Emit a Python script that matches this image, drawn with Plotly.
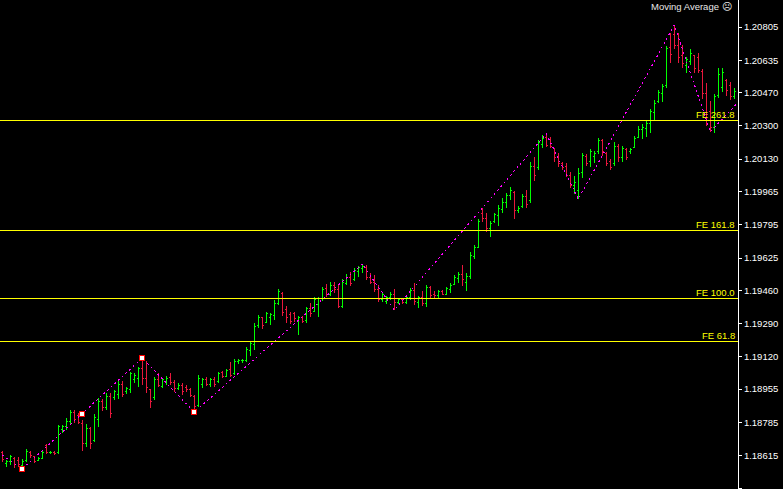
import plotly.graph_objects as go

# ---------------- data (EURUSD-like OHLC) ----------------
bars = list(range(184))

open_ = [1.18634,1.18573,1.18583,1.18603,1.18593,1.18563,1.18593,1.18634,1.18609,1.18593,
         1.18603,1.18665,1.18629,1.18634,1.18629,1.18747,1.18762,1.18792,1.18838,1.18818,
         1.18782,1.18680,1.18752,1.18695,1.18798,1.18890,1.18859,1.18920,1.18910,1.18930,
         1.18981,1.18941,1.18951,1.19002,1.19012,1.19063,1.19012,1.18951,1.18910,1.19002,
         1.18971,1.18992,1.19017,1.18987,1.18956,1.18976,1.18966,1.18951,1.18920,1.18874,
         1.18981,1.19002,1.18981,1.19002,1.18992,1.19038,1.19022,1.19053,1.19033,1.19094,
         1.19099,1.19104,1.19155,1.19181,1.19278,1.19319,1.19298,1.19319,1.19329,1.19395,
         1.19446,1.19360,1.19334,1.19339,1.19308,1.19319,1.19308,1.19365,1.19354,1.19385,
         1.19416,1.19467,1.19441,1.19487,1.19462,1.19375,1.19497,1.19528,1.19513,1.19554,
         1.19569,1.19579,1.19528,1.19502,1.19462,1.19411,1.19405,1.19421,1.19441,1.19400,
         1.19411,1.19400,1.19421,1.19457,1.19400,1.19421,1.19395,1.19472,1.19441,1.19431,
         1.19452,1.19441,1.19462,1.19492,1.19518,1.19543,1.19502,1.19533,1.19635,1.19681,
         1.19850,1.19829,1.19778,1.19809,1.19840,1.19875,1.19911,1.19942,1.19962,1.19870,
         1.19886,1.19937,1.19921,1.20090,1.20085,1.20207,1.20243,1.20228,1.20182,1.20141,
         1.20110,1.20095,1.20049,1.19993,1.19972,1.20064,1.20146,1.20116,1.20146,1.20167,
         1.20223,1.20161,1.20116,1.20110,1.20197,1.20141,1.20177,1.20167,1.20192,1.20243,
         1.20279,1.20289,1.20310,1.20366,1.20427,1.20463,1.20504,1.20698,1.20769,1.20713,
         1.20662,1.20606,1.20631,1.20657,1.20647,1.20580,1.20463,1.20371,1.20294,1.20453,
         1.20494,1.20534,1.20504,1.20448]

high = [1.18639,1.18593,1.18619,1.18609,1.18609,1.18598,1.18649,1.18639,1.18614,1.18609,
        1.18639,1.18675,1.18639,1.18639,1.18772,1.18772,1.18808,1.18849,1.18849,1.18833,
        1.18798,1.18777,1.18762,1.18828,1.18910,1.18905,1.18936,1.18936,1.18951,1.19002,
        1.18997,1.18966,1.19043,1.19038,1.19068,1.19114,1.19099,1.18956,1.19017,1.19038,
        1.19012,1.19022,1.19038,1.19002,1.18987,1.18987,1.18976,1.18961,1.18925,1.19027,
        1.19012,1.19017,1.19012,1.19017,1.19043,1.19048,1.19058,1.19094,1.19109,1.19109,
        1.19109,1.19170,1.19196,1.19293,1.19334,1.19324,1.19349,1.19344,1.19411,1.19467,
        1.19452,1.19380,1.19349,1.19349,1.19329,1.19329,1.19375,1.19395,1.19426,1.19426,
        1.19477,1.19492,1.19502,1.19502,1.19487,1.19518,1.19543,1.19554,1.19574,1.19584,
        1.19594,1.19589,1.19548,1.19538,1.19487,1.19452,1.19431,1.19452,1.19467,1.19416,
        1.19416,1.19431,1.19472,1.19497,1.19431,1.19457,1.19487,1.19482,1.19457,1.19462,
        1.19462,1.19477,1.19497,1.19538,1.19554,1.19589,1.19548,1.19656,1.19691,1.19824,
        1.19880,1.19855,1.19814,1.19855,1.19896,1.19932,1.19957,1.19988,1.19967,1.19891,
        1.19952,1.19972,1.20116,1.20141,1.20228,1.20253,1.20259,1.20243,1.20187,1.20161,
        1.20116,1.20110,1.20064,1.20044,1.20085,1.20161,1.20156,1.20182,1.20172,1.20238,
        1.20233,1.20167,1.20131,1.20218,1.20207,1.20197,1.20187,1.20187,1.20248,1.20299,
        1.20310,1.20325,1.20386,1.20432,1.20483,1.20514,1.20708,1.20774,1.20815,1.20774,
        1.20713,1.20652,1.20693,1.20662,1.20672,1.20591,1.20519,1.20427,1.20463,1.20596,
        1.20596,1.20540,1.20524,1.20494]

low = [1.18583,1.18558,1.18568,1.18552,1.18558,1.18547,1.18583,1.18603,1.18578,1.18588,
       1.18598,1.18624,1.18624,1.18619,1.18624,1.18731,1.18747,1.18772,1.18782,1.18777,
       1.18639,1.18660,1.18649,1.18685,1.18762,1.18844,1.18849,1.18808,1.18900,1.18905,
       1.18915,1.18930,1.18936,1.18987,1.18966,1.18976,1.18936,1.18859,1.18900,1.18966,
       1.18961,1.18976,1.18976,1.18941,1.18951,1.18925,1.18941,1.18915,1.18838,1.18864,
       1.18961,1.18971,1.18966,1.18966,1.18987,1.19012,1.19017,1.19017,1.19027,1.19084,
       1.19089,1.19094,1.19125,1.19155,1.19268,1.19262,1.19293,1.19283,1.19308,1.19385,
       1.19329,1.19293,1.19288,1.19298,1.19232,1.19293,1.19293,1.19324,1.19349,1.19324,
       1.19405,1.19426,1.19431,1.19446,1.19370,1.19370,1.19487,1.19482,1.19508,1.19528,
       1.19548,1.19513,1.19492,1.19452,1.19400,1.19400,1.19390,1.19411,1.19360,1.19390,
       1.19390,1.19390,1.19411,1.19385,1.19370,1.19380,1.19375,1.19416,1.19421,1.19416,
       1.19436,1.19436,1.19446,1.19487,1.19497,1.19482,1.19457,1.19518,1.19620,1.19676,
       1.19809,1.19758,1.19732,1.19804,1.19789,1.19855,1.19880,1.19921,1.19824,1.19855,
       1.19880,1.19880,1.19906,1.20019,1.20075,1.20187,1.20192,1.20187,1.20116,1.20090,
       1.20075,1.20039,1.19983,1.19952,1.19926,1.20034,1.20095,1.20090,1.20110,1.20156,
       1.20146,1.20095,1.20075,1.20095,1.20116,1.20116,1.20126,1.20156,1.20187,1.20238,
       1.20233,1.20243,1.20264,1.20325,1.20417,1.20422,1.20494,1.20621,1.20693,1.20621,
       1.20596,1.20570,1.20611,1.20570,1.20570,1.20437,1.20299,1.20269,1.20264,1.20442,
       1.20473,1.20453,1.20432,1.20437]

close = [1.18598,1.18588,1.18609,1.18568,1.18568,1.18588,1.18639,1.18614,1.18588,1.18603,
         1.18634,1.18634,1.18634,1.18624,1.18762,1.18762,1.18792,1.18838,1.18798,1.18787,
         1.18680,1.18752,1.18675,1.18808,1.18890,1.18859,1.18920,1.18833,1.18941,1.18981,
         1.18930,1.18956,1.19033,1.19027,1.19063,1.19012,1.18961,1.18890,1.19002,1.18976,
         1.19002,1.19012,1.18987,1.18956,1.18976,1.18941,1.18951,1.18925,1.18869,1.19007,
         1.19002,1.18981,1.19002,1.18981,1.19033,1.19022,1.19048,1.19027,1.19094,1.19104,
         1.19104,1.19160,1.19186,1.19273,1.19319,1.19278,1.19339,1.19334,1.19395,1.19452,
         1.19349,1.19319,1.19303,1.19314,1.19319,1.19303,1.19365,1.19339,1.19411,1.19416,
         1.19462,1.19441,1.19487,1.19462,1.19375,1.19502,1.19528,1.19497,1.19559,1.19574,
         1.19584,1.19523,1.19502,1.19462,1.19411,1.19441,1.19421,1.19441,1.19400,1.19411,
         1.19400,1.19421,1.19457,1.19405,1.19421,1.19395,1.19472,1.19431,1.19431,1.19452,
         1.19441,1.19467,1.19487,1.19523,1.19543,1.19513,1.19533,1.19640,1.19681,1.19809,
         1.19829,1.19778,1.19799,1.19845,1.19880,1.19911,1.19942,1.19972,1.19870,1.19880,
         1.19937,1.19896,1.20090,1.20049,1.20213,1.20238,1.20202,1.20197,1.20136,1.20110,
         1.20085,1.20049,1.19993,1.20013,1.20059,1.20151,1.20110,1.20167,1.20161,1.20223,
         1.20167,1.20110,1.20085,1.20197,1.20136,1.20182,1.20141,1.20177,1.20233,1.20284,
         1.20294,1.20310,1.20371,1.20412,1.20468,1.20499,1.20693,1.20667,1.20713,1.20647,
         1.20621,1.20637,1.20672,1.20591,1.20585,1.20463,1.20356,1.20294,1.20448,1.20560,
         1.20575,1.20483,1.20448,1.20478]

# ZigZag swing points (bar index, price)
zz_x = [0, 5, 35, 48, 90, 98, 136, 144, 168, 177, 184]
zz_y = [1.18619, 1.18547, 1.19114, 1.18838, 1.19594, 1.19360, 1.20259, 1.19926, 1.20815, 1.20269, 1.20422]

# Fibonacci expansion anchor markers
pt_x = [5, 20, 35, 48]
pt_y = [1.18547, 1.18828, 1.19114, 1.18838]

# Fibonacci expansion levels
fe_names = ["FE 61.8", "FE 100.0", "FE 161.8", "FE 261.8"]
fe_levels = [1.19196, 1.19416, 1.19763, 1.20325]

# price-axis labels
tick_vals = [1.20805, 1.20635, 1.20470, 1.20300, 1.20130, 1.19965, 1.19795, 1.19625,
             1.19460, 1.19290, 1.19120, 1.18955, 1.18785, 1.18615, 1.18450]
tick_text = ["%.5f" % v for v in tick_vals]

# ---------------- figure ----------------
UP = "#00FF00"
DOWN = "#E8173C"
FONT = "Liberation Sans"

fig = go.Figure()

fig.add_trace(go.Ohlc(
    x=bars, open=open_, high=high, low=low, close=close,
    increasing=dict(line=dict(color=UP, width=1)),
    decreasing=dict(line=dict(color=DOWN, width=1)),
    tickwidth=0.3, showlegend=False, hoverinfo="skip"))

fig.add_trace(go.Scatter(
    x=zz_x, y=zz_y, mode="lines",
    line=dict(color="#FF00FF", width=1, dash="2px,3px"),
    showlegend=False, hoverinfo="skip"))

fig.add_trace(go.Scatter(
    x=pt_x, y=pt_y, mode="markers",
    marker=dict(symbol="square", size=5, color="white", line=dict(color="#FF0000", width=1)),
    showlegend=False, hoverinfo="skip"))

for name, lvl in zip(fe_names, fe_levels):
    fig.add_shape(type="line", xref="paper", x0=0, x1=1, yref="y", y0=lvl, y1=lvl,
                  line=dict(color="#FFFF00", width=1), layer="above")
    fig.add_annotation(xref="paper", x=1, xanchor="right", xshift=-1,
                       yref="y", y=lvl, yanchor="bottom", yshift=-1,
                       text=name, showarrow=False,
                       font=dict(family=FONT, size=9.5, color="#FFFF00"))

fig.add_annotation(xref="paper", x=1, xanchor="right", xshift=-4,
                   yref="paper", y=1, yanchor="top", yshift=1,
                   text="Moving Average \u2639", showarrow=False,
                   font=dict(family=FONT, size=9.5, color="#E8E8E8"))

fig.update_layout(
    width=783, height=489,
    margin=dict(l=0, r=45, t=0, b=0),
    paper_bgcolor="black", plot_bgcolor="black",
    showlegend=False,
    xaxis=dict(range=[-0.575, 183.925], visible=False, showgrid=False, zeroline=False,
               rangeslider=dict(visible=False)),
    yaxis=dict(range=[1.18445, 1.20943], side="right", showgrid=False, zeroline=False,
               showline=True, linecolor="white", linewidth=1,
               ticks="outside", ticklen=3, tickcolor="white", tickwidth=1,
               tickvals=tick_vals, ticktext=tick_text,
               tickfont=dict(family=FONT, size=9.5, color="white")),
)

post_js = (
    "document.body.style.margin='0';document.body.style.background='black';"
    "document.body.style.overflow='hidden';"
    "var gd=document.getElementById('{plot_id}');"
    "gd.querySelectorAll('.shapelayer path, .ohlclayer path, .scatterlayer path')"
    ".forEach(function(p){p.style.shapeRendering='crispEdges';});"
)

fig.write_html("out.html", post_script=post_js,
               config={"displayModeBar": False, "staticPlot": True})
